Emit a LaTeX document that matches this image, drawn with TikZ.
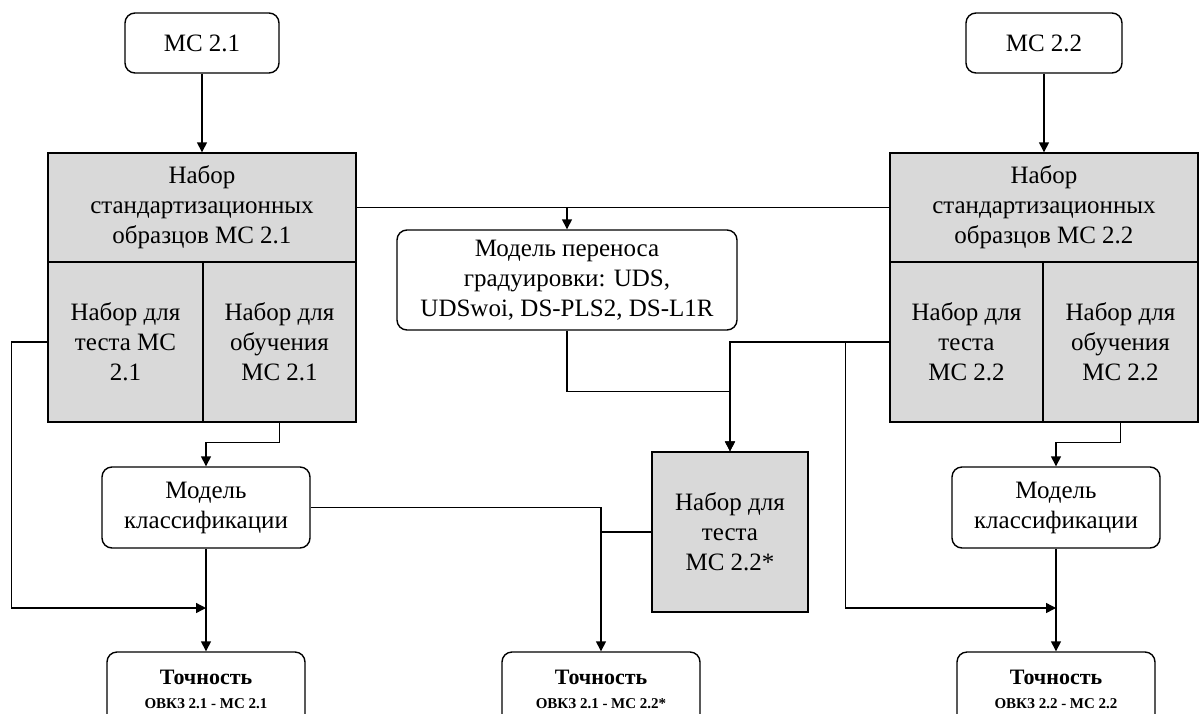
\documentclass[tikz,border=0pt]{standalone}
\usepackage{fontspec}
\setmainfont{Liberation Serif}
\usetikzlibrary{arrows.meta}
\definecolor{cellgray}{HTML}{D9D9D9}

\begin{document}
\begin{tikzpicture}[x=0.5pt, y=-0.5pt, line width=0.7pt, >={Triangle[length=5pt,width=5pt]},
	every node/.style={font=\fontsize{12.5}{15}\selectfont, align=center, inner sep=0pt},
	rbox/.style={draw, rounded corners=5pt},
	gbox/.style={draw, fill=cellgray},
	accbox/.style={rbox, minimum width=99pt, minimum height=37pt, font=\bfseries\fontsize{11}{12}\selectfont}]
	\useasboundingbox (0,0) rectangle (1200,713);
	% left column
	\node[rbox, minimum width=77pt, minimum height=30pt] (mc1) at (202,43) {МС 2.1};
	\node[gbox, minimum width=154pt, minimum height=54.5pt] (std1) at (202,207.5) {Набор\\стандартизационных\\образцов МС 2.1};
	\node[gbox, minimum width=77.5pt, minimum height=80pt] (test1) at (125.5,342) {Набор для\\теста МС\\2.1};
	\node[gbox, minimum width=76.5pt, minimum height=80pt] (train1) at (279.5,342) {Набор для\\обучения\\МС 2.1};
	\node[rbox, minimum width=104pt, minimum height=40.5pt] (cls1) at (206,507.5) {Модель\\классификации};
	\node[accbox] (acc1) at (206,689) {Точность\\{\fontsize{7.5}{9}\selectfont ОВКЗ 2.1 - МС 2.1}};
	% right column
	\node[rbox, minimum width=78pt, minimum height=30pt] (mc2) at (1044,43) {МС 2.2};
	\node[gbox, minimum width=154pt, minimum height=54.5pt] (std2) at (1044,207.5) {Набор\\стандартизационных\\образцов МС 2.2};
	\node[gbox, minimum width=76.5pt, minimum height=80pt] (test2) at (966.5,342) {Набор для\\теста\\МС 2.2};
	\node[gbox, minimum width=77.5pt, minimum height=80pt] (train2) at (1120.5,342) {Набор для\\обучения\\МС 2.2};
	\node[rbox, minimum width=104pt, minimum height=40.5pt] (cls2) at (1056,507.5) {Модель\\классификации};
	\node[accbox] (acc3) at (1056,689) {Точность\\{\fontsize{7.5}{9}\selectfont ОВКЗ 2.2 - МС 2.2}};
	% middle
	\node[rbox, minimum width=170pt, minimum height=50pt] (transfer) at (567,280) {Модель переноса\\градуировки: UDS,\\UDSwoi, DS-PLS2, DS-L1R};
	\node[gbox, minimum width=78pt, minimum height=80pt] (test22s) at (730,532) {Набор для\\теста\\МС 2.2*};
	\node[accbox] (acc2) at (601,689) {Точность\\{\fontsize{7.5}{9}\selectfont ОВКЗ 2.1 - МС 2.2*}};
	\coordinate (j1) at (206,608);
	\coordinate (j2) at (1056,608);

	\draw[->] (mc1.south) -- (std1.north);
	\draw[->] (mc2.south) -- (std2.north);
	\draw (std1.east) -- (std2.west);
	\draw[->] (std1.east -| transfer.north) -- (transfer.north);
	\draw[->] (train1.south) -- ++(0,20) -| (cls1.north);
	\draw[->] (train2.south) -- ++(0,20) -| (cls2.north);
	\draw[->] (test1.west) -- ++(-36,0) |- (j1);
	\draw[->] (cls1.south) -- (acc1.north);
	\draw[->] (cls2.south) -- (acc3.north);
	\draw[->] (cls1.east) -| (acc2.north);
	\draw (test22s.west) -- (test22s.west -| acc2.north);
	\draw[->] (transfer.south) -- ++(0,61) -| (test22s.north);
	\draw[->] (test2.west) -| (test22s.north);
	\draw[->] (test2.west) ++(-44,0) |- (j2);
\end{tikzpicture}
\end{document}
